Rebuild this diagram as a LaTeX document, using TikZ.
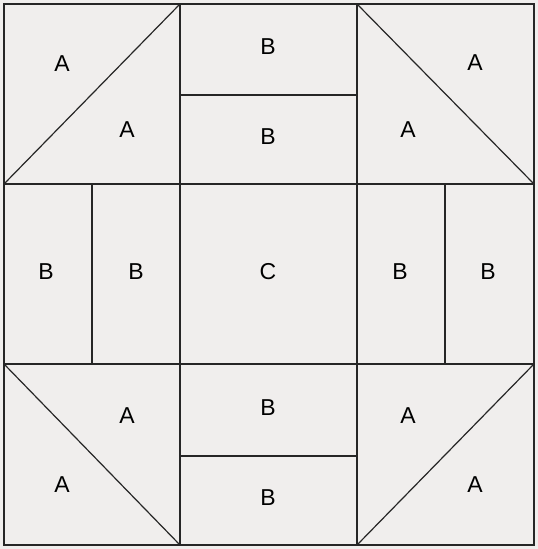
\documentclass[tikz,border=0pt]{standalone}
\usepackage{fontspec}
\setmainfont{Liberation Sans}
\definecolor{bgc}{HTML}{F0EEED}
\definecolor{ln}{HTML}{262626}
\begin{document}
\begin{tikzpicture}[x=1pt,y=-1pt,
  seam/.style={draw=ln,line width=1.2pt},
  lab/.style={font=\fontsize{23}{23}\selectfont,text=black,inner sep=0pt}]
\fill[bgc] (0,0) rectangle (538,549);
\useasboundingbox (0,0) rectangle (538,549);
% outer border and grid
\draw[seam] (4,4) rectangle (534,545);
\draw[seam] (180,4) -- (180,545);
\draw[seam] (357,4) -- (357,545);
\draw[seam] (4,184) -- (534,184);
\draw[seam] (4,364) -- (534,364);
% inner divisions
\draw[seam] (180,95) -- (357,95);
\draw[seam] (180,456) -- (357,456);
\draw[seam] (92,184) -- (92,364);
\draw[seam] (445,184) -- (445,364);
% diagonals
\draw[seam] (4,184) -- (180,4);
\draw[seam] (357,4) -- (534,184);
\draw[seam] (4,364) -- (180,545);
\draw[seam] (357,545) -- (534,364);
% labels
\node[lab] (a1) at (62,64) {A};
\node[lab] (a2) at (127,130) {A};
\node[lab] (b1) at (268,47) {B};
\node[lab] (b2) at (268,137) {B};
\node[lab] (a3) at (475,63) {A};
\node[lab] (a4) at (408,130) {A};
\node[lab] (b3) at (46,272) {B};
\node[lab] (b4) at (136,272) {B};
\node[lab] (c1) at (268,272) {C};
\node[lab] (b5) at (400,272) {B};
\node[lab] (b6) at (488,272) {B};
\node[lab] (a5) at (127,416) {A};
\node[lab] (b7) at (268,408) {B};
\node[lab] (a6) at (408,416) {A};
\node[lab] (a7) at (62,485) {A};
\node[lab] (b8) at (268,498) {B};
\node[lab] (a8) at (475,485) {A};
\end{tikzpicture}
\end{document}
